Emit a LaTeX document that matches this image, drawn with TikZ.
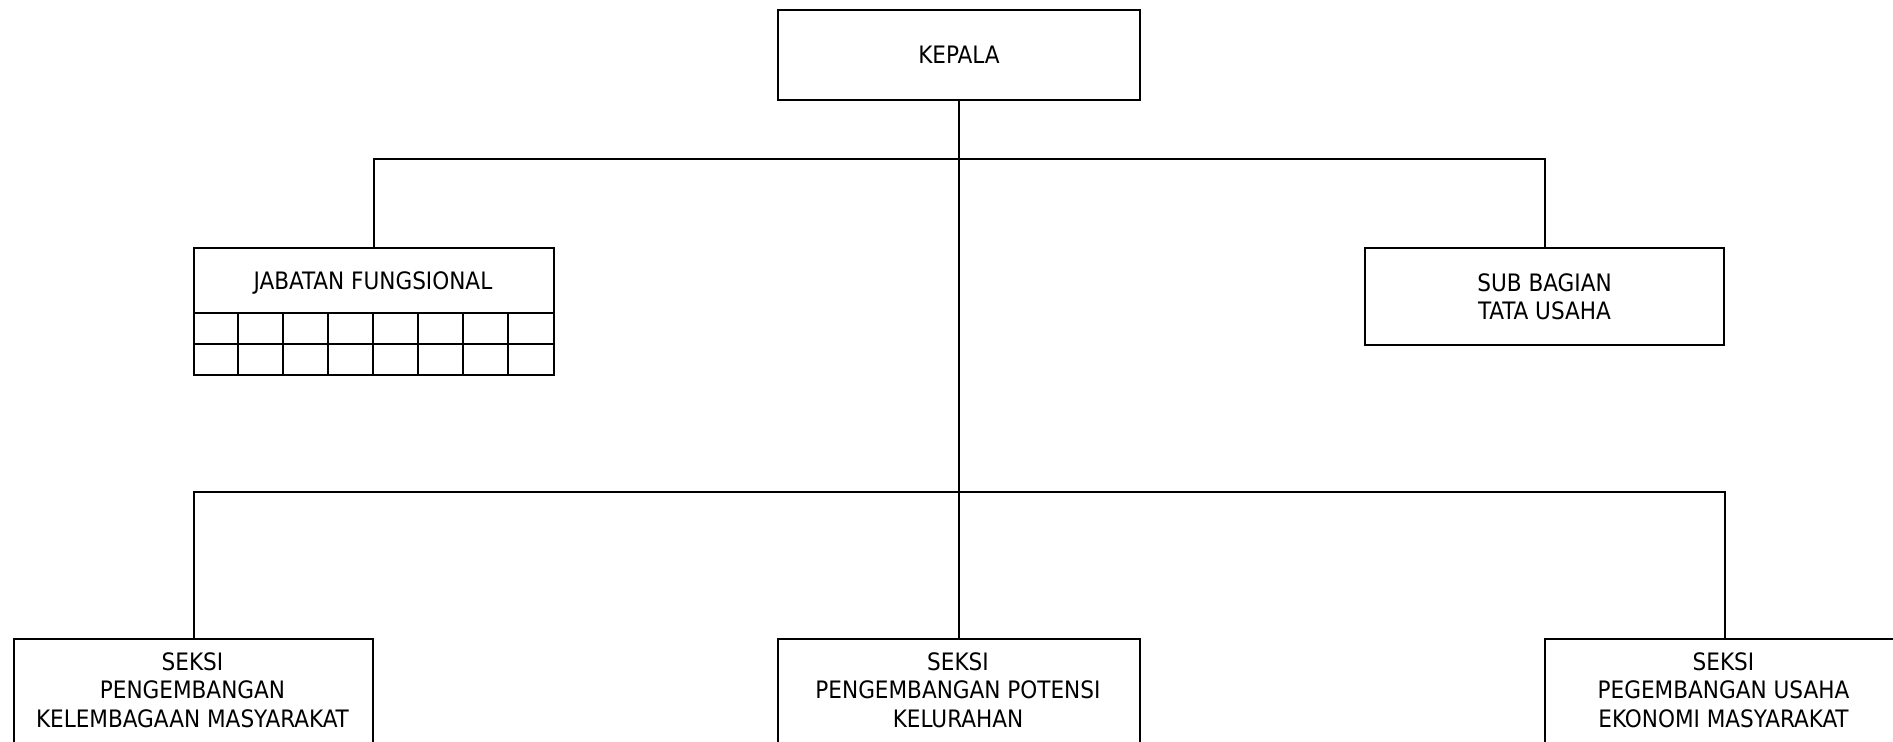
\documentclass[tikz,border=0pt]{standalone}
\usepackage{fontspec}
\setmainfont{DejaVu Sans Condensed}
\usetikzlibrary{calc}
\begin{document}
\begin{tikzpicture}[x=0.5pt,y=-0.5pt,
  line width=1pt,
  orgbox/.style={draw, line width=1pt, inner sep=0pt, anchor=north west},
  lbl/.style={font=\fontsize{12pt}{14.2pt}\selectfont, align=center, inner sep=0pt},
  wire/.style={draw, line width=1pt}]
  \useasboundingbox (0,0) rectangle (1893,741);
  \clip (0,0) rectangle (1893,741);

  % boxes
  \node[orgbox, minimum width=181pt, minimum height=45pt] (kep) at (777,9) {};
  \node[orgbox, minimum width=180pt, minimum height=63.5pt] (jab) at (193,247) {};
  \node[orgbox, minimum width=179.5pt, minimum height=48.5pt] (sub) at (1364,247) {};
  \node[orgbox, minimum width=179.5pt, minimum height=65pt] (s1) at (13,638) {};
  \node[orgbox, minimum width=181pt, minimum height=65pt] (s2) at (777,638) {};
  \node[orgbox, minimum width=179.5pt, minimum height=65pt] (s3) at (1544,638) {};

  % texts
  \node[lbl] (kept) at (kep.center) {KEPALA};
  \node[lbl, anchor=base] (jabt) at (373,289) {JABATAN FUNGSIONAL};
  \node[lbl] (subt) at (sub.center) {SUB BAGIAN\\TATA USAHA};
  \node[lbl, anchor=north] (s1t) at (192.5,651.5) {SEKSI\\PENGEMBANGAN\\KELEMBAGAAN MASYARAKAT};
  \node[lbl, anchor=north] (s2t) at (958,651.5) {SEKSI\\PENGEMBANGAN POTENSI\\KELURAHAN};
  \node[lbl, anchor=north] (s3t) at (1723.5,651.5) {SEKSI\\PEGEMBANGAN USAHA\\EKONOMI MASYARAKAT};

  % grid of the functional-staff table
  \draw (193,313) -- (553,313);
  \draw (193,344) -- (553,344);
  \foreach \k in {1,...,7}
    \draw (193+45*\k,313) -- (193+45*\k,374);

  % connectors
  \coordinate (bus1) at (958,159);
  \coordinate (bus2) at (958,492);
  \draw[wire] (kep.south) -- (s2.north);
  \draw[wire] (jab.north) |- (bus1) -| (sub.north);
  \draw[wire] (s1.north) |- (bus2) -| (s3.north);
\end{tikzpicture}
\end{document}
